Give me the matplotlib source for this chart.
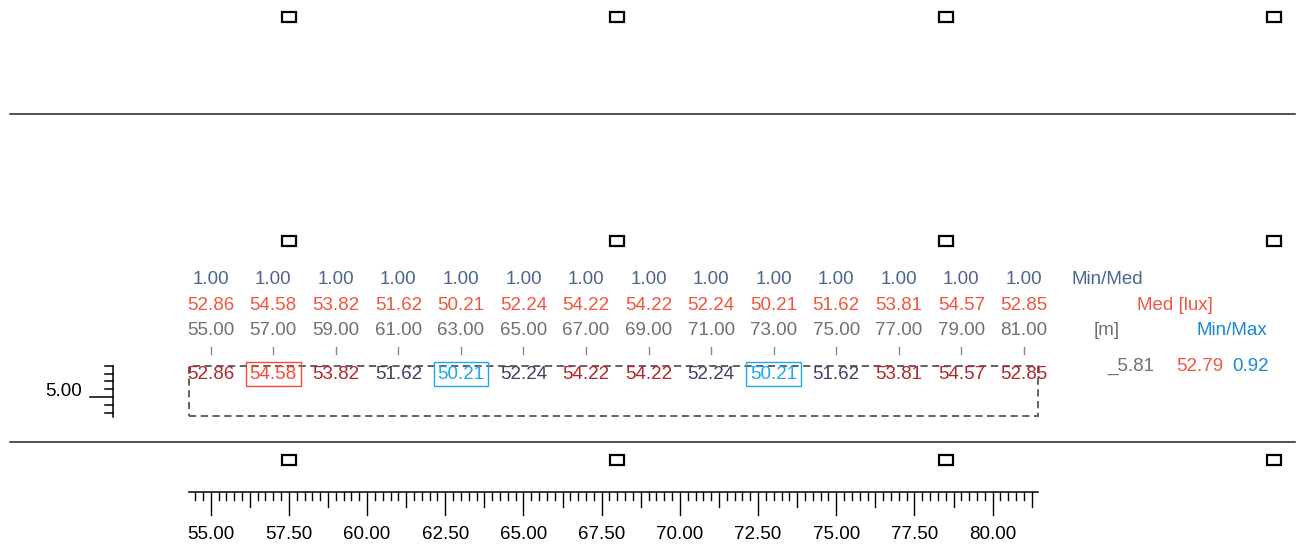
import matplotlib.pyplot as plt
import numpy as np
from matplotlib.patches import Rectangle

plt.rcParams["font.family"] = ["Liberation Sans", "DejaVu Sans"]

# grid points along the line (m) and results
pos_x = [55.0, 57.0, 59.0, 61.0, 63.0, 65.0, 67.0, 69.0, 71.0, 73.0, 75.0, 77.0, 79.0, 81.0]
lux = [52.86, 54.58, 53.82, 51.62, 50.21, 52.24, 54.22, 54.22, 52.24, 50.21, 51.62, 53.81, 54.57, 52.85]
min_med = [1.00] * 14
row_y = 5.81
e_med = 52.79
min_max = 0.92

# luminaires
lum_x = [57.5, 68.0, 78.5, 89.0]
lum_y = [3.0, 10.0, 17.15]

# calculation area
area_x = (54.3, 81.45)
area_y = (4.38, 6.0)

# road edges
edge_y = [14.05, 3.56]
edge_x = (48.58, 89.66)

C_MINMED = "#4d6390"
C_MED = "#f2553f"
C_POS = "#707070"
C_HI = "#b3262c"
C_LO = "#4a3c68"
C_MIN = "#1ea6ee"
C_MAX = "#fb4837"
C_MINMAX = "#1a86d6"
FS = 13.5

fig = plt.figure(figsize=(13.02, 5.46), dpi=100)
ax = fig.add_axes([0, 0, 1, 1])
ax.set_xlim(48.264, 89.89)
ax.set_ylim(0.237, 17.69)
ax.axis("off")

# road edges
for y in edge_y:
    ax.plot(edge_x, [y, y], color="#222222", lw=1.1)

# luminaires
for lx in lum_x:
    for ly in lum_y:
        ax.add_patch(Rectangle((lx - 0.22, ly - 0.16), 0.44, 0.32,
                               fill=False, ec="black", lw=1.6))

# calculation area
ax.add_patch(Rectangle((area_x[0], area_y[0]), area_x[1] - area_x[0],
                       area_y[1] - area_y[0], fill=False, ec="#555555",
                       lw=1.3, ls=(0, (4, 2.5))))

i_min = int(np.argmin(lux))
i_max = int(np.argmax(lux))
for i, (x, v, r) in enumerate(zip(pos_x, lux, min_med)):
    ax.text(x, 8.77, f"{r:.2f}", color=C_MINMED, fontsize=FS, ha="center", va="center")
    ax.text(x, 7.91, f"{v:.2f}", color=C_MED, fontsize=FS, ha="center", va="center")
    ax.text(x, 7.11, f"{x:.2f}", color=C_POS, fontsize=FS, ha="center", va="center")
    ax.plot([x, x], [6.38, 6.6], color="#888888", lw=1)
    if v == lux[i_min]:
        col, box = C_MIN, dict(boxstyle="square,pad=0.2", fc="none", ec=C_MIN, lw=1)
    elif i == i_max:
        col, box = C_MAX, dict(boxstyle="square,pad=0.2", fc="none", ec=C_MAX, lw=1)
    else:
        col, box = (C_HI if v > e_med else C_LO), None
    ax.text(x, row_y - 0.08, f"{v:.2f}", color=col, fontsize=FS,
            ha="center", va="center", bbox=box)

# legend column on the right
ax.text(83.65, 8.77, "Min/Med", color=C_MINMED, fontsize=FS, ha="center", va="center")
ax.text(85.83, 7.91, "Med [lux]", color=C_MED, fontsize=FS, ha="center", va="center")
ax.text(83.64, 7.11, "[m]", color=C_POS, fontsize=FS, ha="center", va="center")
ax.text(87.65, 7.11, "Min/Max", color=C_MINMAX, fontsize=FS, ha="center", va="center")
ax.text(84.41, 5.99, f"_{row_y:.2f}", color=C_POS, fontsize=FS, ha="center", va="center")
ax.text(86.63, 5.99, f"{e_med:.2f}", color=C_MED, fontsize=FS, ha="center", va="center")
ax.text(88.23, 5.99, f"{min_max:.2f}", color=C_MINMAX, fontsize=FS, ha="center", va="center")

# vertical scale
vx = 51.886
ax.plot([vx, vx], [4.37, 6.0], color="black", lw=1.1)
for t in np.arange(4.5, 6.01, 0.25):
    x0 = 51.14 if abs(t - 5.0) < 1e-6 else 51.63
    ax.plot([x0, vx], [t, t], color="black", lw=1.1)
ax.text(50.9, 5.17, "5.00", color="black", fontsize=FS, ha="right", va="center")

# horizontal scale
ry = 1.97
ax.plot([54.3, 81.45], [ry, ry], color="black", lw=1.1)
for t in np.arange(54.5, 81.26, 0.25):
    k = round((t - 55.0) / 0.25)
    if k % 10 == 0:
        ln = 0.74
    elif k % 5 == 0:
        ln = 0.5
    else:
        ln = 0.26
    ax.plot([t, t], [ry, ry - ln], color="black", lw=1.0)
for t in np.arange(55.0, 80.01, 2.5):
    ax.text(t, 0.62, f"{t:.2f}", color="black", fontsize=FS, ha="center", va="center")

fig.savefig("out.png", dpi=100)
